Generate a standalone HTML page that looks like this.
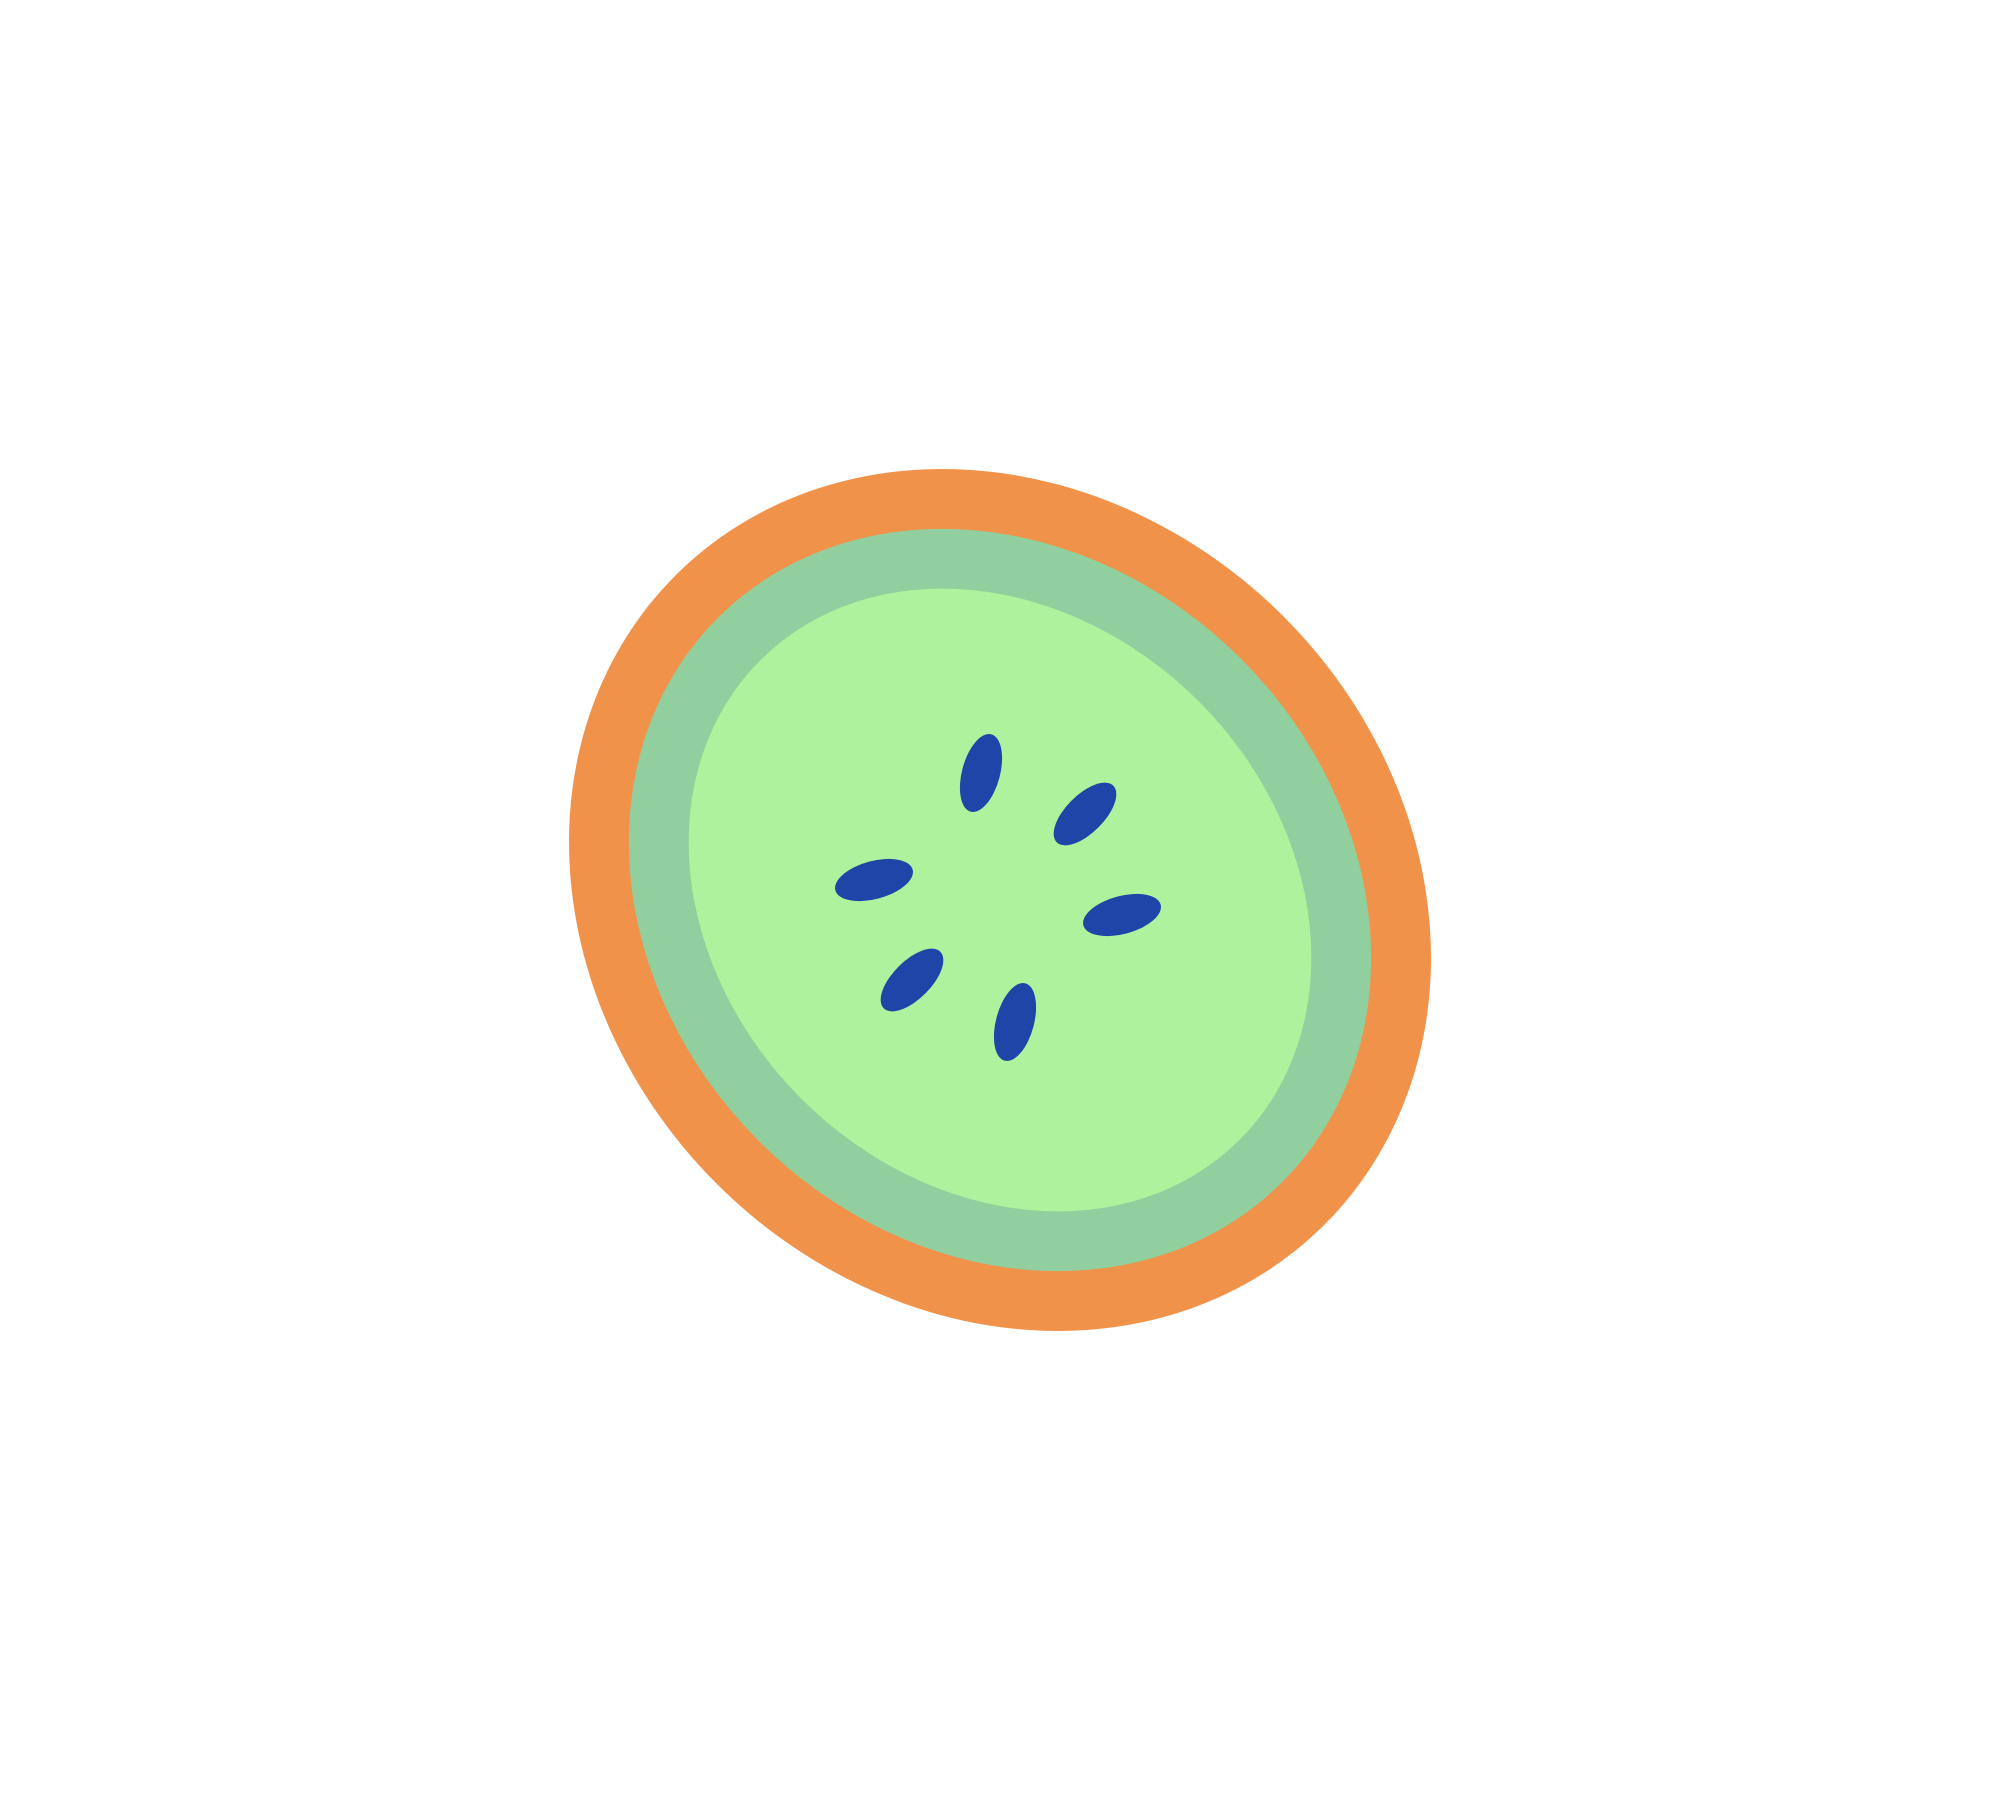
<!DOCTYPE html>
<html><head><meta charset="utf-8"><style>html,body{margin:0;padding:0;background:#fff;width:2000px;height:1800px;overflow:hidden}</style></head>
<body>
<svg width="2000" height="1800" viewBox="0 0 2000 1800">
<g transform="translate(1000,900) rotate(45)">
<ellipse rx="459" ry="401" fill="#F0924A"/>
<ellipse rx="399" ry="341" fill="#92CF9E"/>
<ellipse rx="339" ry="281" fill="#ADF29C"/>
</g>
<g id="seeds"></g>
</svg>
<script>
const seedX = [981, 1085, 874, 1122, 912, 1015];
const seedY = [773, 814, 880, 915, 980, 1022];
const seedAngle = [-75, -45, -15, -15, -45, -75];
const g = document.getElementById('seeds');
for (let i = 0; i < seedX.length; i++) {
  const e = document.createElementNS('http://www.w3.org/2000/svg', 'ellipse');
  e.setAttribute('cx', 0); e.setAttribute('cy', 0);
  e.setAttribute('rx', 40); e.setAttribute('ry', 19);
  e.setAttribute('fill', '#1F45A8');
  e.setAttribute('transform', 'translate(' + seedX[i] + ',' + seedY[i] + ') rotate(' + seedAngle[i] + ')');
  
  
  g.appendChild(e);
}
</script>
</body></html>
